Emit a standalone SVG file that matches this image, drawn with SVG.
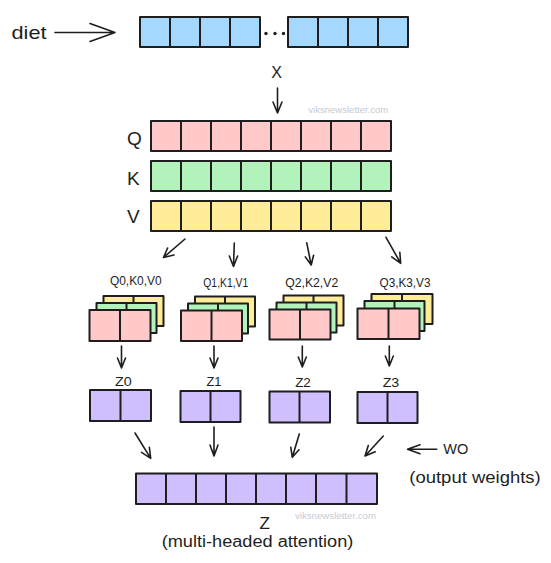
<svg xmlns="http://www.w3.org/2000/svg" width="551" height="563" viewBox="0 0 551 563">
<style>
  .cell{stroke:#1e1e1e;stroke-width:2;stroke-linejoin:round}
  .blue{fill:#a5d8ff}.pink{fill:#ffc9c9}.green{fill:#b2f2bb}.yellow{fill:#ffec99}.purple{fill:#d0bfff}
  .div{stroke:#1e1e1e;stroke-width:2;fill:none}
  .arr{stroke:#1e1e1e;stroke-width:1.6;fill:none;stroke-linecap:round;stroke-linejoin:round}
  text{font-family:"Liberation Sans","DejaVu Sans",sans-serif;fill:#1e1e1e}
  .wm{fill:#c5cad3;font-size:9px}
</style>
<rect width="551" height="563" fill="#ffffff"/>

<g id="input">
  <text x="11.5" y="39" font-size="19" textLength="35" lengthAdjust="spacingAndGlyphs">diet</text>
  <rect class="cell blue" x="140" y="17" width="120" height="30"/>
  <path class="div" d="M170 17V47M200 17V47M230 17V47"/>
  <circle cx="266" cy="33.5" r="1.7" fill="#1e1e1e"/>
  <circle cx="275" cy="33.5" r="1.7" fill="#1e1e1e"/>
  <circle cx="283.5" cy="33.5" r="1.7" fill="#1e1e1e"/>
  <rect class="cell blue" x="288" y="17" width="120" height="30"/>
  <path class="div" d="M318 17V47M348 17V47M378 17V47"/>
  <text x="276.7" y="78.3" font-size="16" text-anchor="middle">X</text>
  <text class="wm" x="308.3" y="112.5" textLength="80" lengthAdjust="spacingAndGlyphs">viksnewsletter.com</text>
</g>

<g id="Q">
  <text x="127" y="145.3" font-size="19">Q</text>
  <rect class="cell pink" x="151" y="121" width="240" height="30"/>
  <path class="div" d="M181 121V151M211 121V151M241 121V151M271 121V151M301 121V151M331 121V151M361 121V151"/>
</g>
<g id="K">
  <text x="127" y="185" font-size="19">K</text>
  <rect class="cell green" x="151" y="161" width="240" height="30"/>
  <path class="div" d="M181 161V191M211 161V191M241 161V191M271 161V191M301 161V191M331 161V191M361 161V191"/>
</g>
<g id="V">
  <text x="127" y="222.7" font-size="19">V</text>
  <rect class="cell yellow" x="151" y="201" width="240" height="30"/>
  <path class="div" d="M181 201V231M211 201V231M241 201V231M271 201V231M301 201V231M331 201V231M361 201V231"/>
</g>

<g id="head0">
  <text x="135.8" y="285" font-size="12" text-anchor="middle" textLength="51.7" lengthAdjust="spacingAndGlyphs">Q0,K0,V0</text>
  <rect class="cell yellow" x="103.5" y="296" width="60" height="30"/>
  <path class="div" d="M133.5 296V326"/>
  <rect class="cell green" x="96.5" y="303" width="60" height="30"/>
  <path class="div" d="M126.5 303V333"/>
  <rect class="cell pink" x="89.5" y="310" width="61" height="31"/>
  <path class="div" d="M120 310V341"/>
</g>
<g id="head1">
  <text x="225.8" y="286.5" font-size="12" text-anchor="middle" textLength="45" lengthAdjust="spacingAndGlyphs">Q1,K1,V1</text>
  <rect class="cell yellow" x="195" y="296.5" width="60" height="30"/>
  <path class="div" d="M225 296.5V326.5"/>
  <rect class="cell green" x="188" y="303.5" width="60" height="30"/>
  <path class="div" d="M218 303.5V333.5"/>
  <rect class="cell pink" x="181" y="310.5" width="61" height="30.5"/>
  <path class="div" d="M211.5 310.5V341"/>
</g>
<g id="head2">
  <text x="311.7" y="286.5" font-size="12" text-anchor="middle" textLength="53" lengthAdjust="spacingAndGlyphs">Q2,K2,V2</text>
  <rect class="cell yellow" x="283.5" y="295.5" width="60" height="30"/>
  <path class="div" d="M313.5 295.5V325.5"/>
  <rect class="cell green" x="276.5" y="302.5" width="60" height="30"/>
  <path class="div" d="M306.5 302.5V332.5"/>
  <rect class="cell pink" x="269.5" y="309.5" width="61" height="30"/>
  <path class="div" d="M300 309.5V339.5"/>
</g>
<g id="head3">
  <text x="405" y="286.5" font-size="12" text-anchor="middle" textLength="51" lengthAdjust="spacingAndGlyphs">Q3,K3,V3</text>
  <rect class="cell yellow" x="371.5" y="294" width="61" height="30"/>
  <path class="div" d="M402 294V324"/>
  <rect class="cell green" x="364.5" y="301" width="60" height="30"/>
  <path class="div" d="M394.5 301V331"/>
  <rect class="cell pink" x="357.5" y="308.5" width="62" height="30.5"/>
  <path class="div" d="M388.5 308.5V339"/>
</g>

<g id="z0">
  <text x="123.3" y="386" font-size="12" text-anchor="middle" textLength="16.7" lengthAdjust="spacingAndGlyphs">Z0</text>
  <rect class="cell purple" x="90" y="390" width="61" height="31"/>
  <path class="div" d="M120.5 390V421"/>
</g>
<g id="z1">
  <text x="214" y="386" font-size="12" text-anchor="middle" textLength="15" lengthAdjust="spacingAndGlyphs">Z1</text>
  <rect class="cell purple" x="180.5" y="391" width="60" height="31"/>
  <path class="div" d="M210.5 391V422"/>
</g>
<g id="z2">
  <text x="303" y="386.5" font-size="12" text-anchor="middle" textLength="15.7" lengthAdjust="spacingAndGlyphs">Z2</text>
  <rect class="cell purple" x="269.5" y="391.5" width="60.5" height="31"/>
  <path class="div" d="M299.5 391.5V422.5"/>
</g>
<g id="z3">
  <text x="391" y="386.5" font-size="12" text-anchor="middle" textLength="16.6" lengthAdjust="spacingAndGlyphs">Z3</text>
  <rect class="cell purple" x="357.5" y="392" width="60" height="31"/>
  <path class="div" d="M387.5 392V423"/>
</g>

<g id="wo">
  <text x="443.3" y="454" font-size="14" textLength="25" lengthAdjust="spacingAndGlyphs">WO</text>
  <text x="409.3" y="483" font-size="16" textLength="131.4" lengthAdjust="spacingAndGlyphs">(output weights)</text>
</g>

<g id="output">
  <rect class="cell purple" x="136" y="473.5" width="241" height="30.5"/>
  <path class="div" d="M166 473.5V504M196 473.5V504M226 473.5V504M256 473.5V504M286 473.5V504M316 473.5V504M346.5 473.5V504"/>
  <text class="wm" x="295" y="519" textLength="81" lengthAdjust="spacingAndGlyphs">viksnewsletter.com</text>
  <text x="264.7" y="529.3" font-size="17" text-anchor="middle">Z</text>
  <text x="257.5" y="547" font-size="16" text-anchor="middle" textLength="191.7" lengthAdjust="spacingAndGlyphs">(multi-headed attention)</text>
</g>

<g id="connectors">
  <path class="arr" d="M55 32.5H115M90 23.5L115 32.5L90 41.5"/>
  <path class="arr" d="M277.5 88V113M273 102L277.5 113L282 102"/>
  <path class="arr" d="M185 239L163.5 257.5M174 255L163.5 257.5L167.6 248"/>
  <path class="arr" d="M234.3 243L233.5 266.5M229.3 256L233.5 266.5L237.6 256"/>
  <path class="arr" d="M306.7 242.7L311.2 265M313.6 255.3L311.2 265L305.3 256.9"/>
  <path class="arr" d="M386 237.3L400.7 263.3M399.8 252.3L400.7 263.3L391.7 256.9"/>
  <path class="arr" d="M121.5 346V368M117.5 358L121.5 368L125.5 358"/>
  <path class="arr" d="M214 346V368M210 358L214 368L218 358"/>
  <path class="arr" d="M302.3 346V367M298.3 357L302.3 367L306.3 357"/>
  <path class="arr" d="M389.3 346V366M385.3 356L389.3 366L393.3 356"/>
  <path class="arr" d="M135 433L150.7 458.3M149.4 447.4L150.7 458.3L141.5 452.3"/>
  <path class="arr" d="M214 427V456M210 445L214 456L218 445"/>
  <path class="arr" d="M299.3 434L292.3 457.3M299 449.8L292.3 457.3L290.8 447.4"/>
  <path class="arr" d="M383.3 436L365 456M375.2 451.8L365 456L368.3 445.5"/>
  <path class="arr" d="M436.7 449.3H407.5M420 444.8L407.5 449.3L420 453.8"/>
</g>
</svg>
